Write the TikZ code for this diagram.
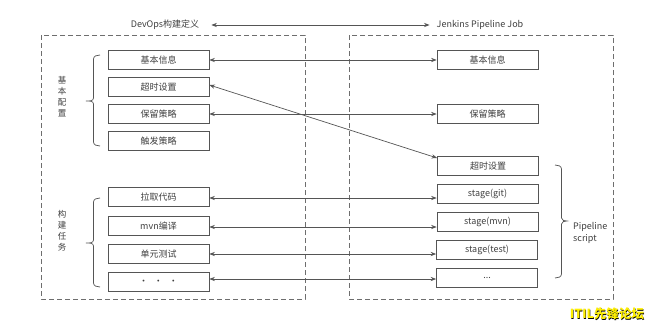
\documentclass[tikz,border=0pt]{standalone}
\usepackage{fontspec}
\setmainfont{Noto Sans CJK SC}
\usetikzlibrary{arrows.meta}
\definecolor{ln}{HTML}{555555}
\definecolor{tx}{HTML}{404040}
\definecolor{itily}{HTML}{FFF000}
\begin{document}
\begin{tikzpicture}[x=1pt,y=-1pt,
  box/.style={draw=ln,line width=0.7pt,minimum width=101pt,minimum height=19.5pt,inner sep=0pt,
    font=\fontsize{9}{10}\selectfont,text=tx},
  frame/.style={draw=ln!85,line width=0.8pt,dash pattern=on 5pt off 3pt},
  arr/.style={draw=ln,line width=0.7pt,{Stealth[length=5.5pt,width=4.2pt]}-{Stealth[length=5.5pt,width=4.2pt]}},
  lbl/.style={text=tx,font=\fontsize{9}{11}\selectfont,inner sep=0pt},
  vlbl/.style={text=tx,font=\fontsize{8.5}{11}\selectfont,align=center,inner sep=0pt},
  brace/.style={draw=ln,line width=0.7pt}]
\useasboundingbox (0,0) rectangle (651,324);
\fill[white] (0,0) rectangle (651,324);

% frames
\draw[frame] (41,35) rectangle (305,299);
\draw[frame] (349,35) rectangle (613,299);

% titles
\node[lbl] (dev) at (165,25) {DevOps构建定义};
\node[lbl] (jen) at (480,25) {Jenkins Pipeline Job};
\draw[arr] ([xshift=12pt]dev.east) -- ([xshift=-7pt]jen.west);

% left nodes
\node[box] (l1) at (158.5,60) {基本信息};
\node[box] (l2) at (158.5,87) {超时设置};
\node[box] (l3) at (158.5,114) {保留策略};
\node[box] (l4) at (158.5,141) {触发策略};
\node[box] (l5) at (158.5,197) {拉取代码};
\node[box] (l6) at (158.5,226) {mvn编译};
\node[box] (l7) at (158.5,254) {单元测试};
\node[box] (l8) at (158.5,282) {·\hspace{6pt}·\hspace{6pt}·};

% right nodes
\node[box] (r1) at (487.5,60) {基本信息};
\node[box] (r2) at (487.5,114) {保留策略};
\node[box] (r3) at (488,166) {超时设置};
\node[box] (r4) at (487.5,194) {stage(git)};
\node[box] (r5) at (487.5,222) {stage(mvn)};
\node[box] (r6) at (487,250) {stage(test)};
\node[box] (r7) at (487,278) {...};

% connectors
\draw[arr] (l1.east) -- (l1.east -| r1.west);
\draw[arr] (l3.east) -- (l3.east -| r2.west);
\draw[arr] ([yshift=2pt]l2.east) -- ([yshift=8pt]r3.west);
\draw[arr] ([yshift=-1pt]l5.east) -- ([yshift=-1pt]l5.east -| r4.west);
\draw[arr] ([yshift=-1pt]l6.east) -- ([yshift=-1pt]l6.east -| r5.west);
\draw[arr] (l7.east) -- (l7.east -| r6.west);
\draw[arr] ([yshift=3pt]l8.east) -- ([yshift=3pt]l8.east -| r7.west);

% left braces
\draw[brace] (100,55) to[out=180,in=90] (93.5,59) -- (93.5,98) to[out=-90,in=0] (86,101)
  to[out=0,in=90] (93.5,104) -- (93.5,142) to[out=-90,in=180] (100,146);
\draw[brace] (100,198) to[out=180,in=90] (93.5,202) -- (93.5,240) to[out=-90,in=0] (86,243)
  to[out=0,in=90] (93.5,246) -- (93.5,283) to[out=-90,in=180] (100,287);
\node[vlbl] (g1) at (62,97) {基\\本\\配\\置};
\node[vlbl] (g2) at (62,231) {构\\建\\任\\务};

% right brace
\draw[brace] (555,165) to[out=0,in=90] (561.5,169) -- (561.5,218) to[out=-90,in=180] (567,221)
  to[out=180,in=90] (561.5,224) -- (561.5,274) to[out=-90,in=0] (555,278);
\node[lbl,align=left,anchor=west,font=\fontsize{9}{12}\selectfont] (ps) at (573,233) {Pipeline\\script};

% corner mark
\node[font=\bfseries\fontsize{12.5}{13}\selectfont,text=black,inner sep=0pt] (wm0) at (607.6,314.6) {ITIL先锋论坛};
\node[font=\bfseries\fontsize{12.5}{13}\selectfont,text=itily,inner sep=0pt] (wm) at (607,314) {ITIL先锋论坛};
\end{tikzpicture}
\end{document}
